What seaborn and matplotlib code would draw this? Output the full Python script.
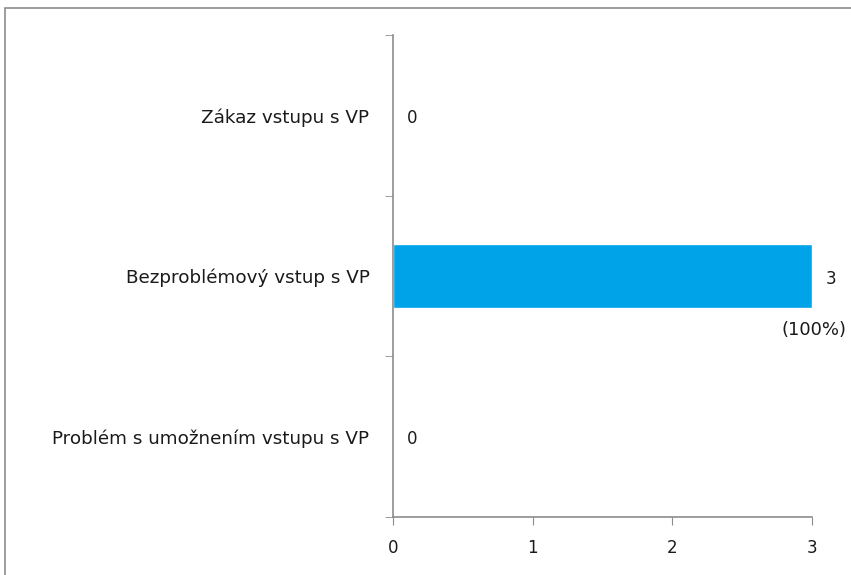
import matplotlib
matplotlib.use('Agg')
import matplotlib.pyplot as plt
import matplotlib.patches as patches
import pandas as pd
import seaborn as sns

categories = ['Zákaz vstupu s VP', 'Bezproblémový vstup s VP', 'Problém s umožnením vstupu s VP']
counts = [0, 3, 0]
percent_labels = ['', '(100%)', '']
xticks = [0, 1, 2, 3]

df = pd.DataFrame({'kategorie': categories, 'pocet': counts})

sns.set_style('white')
plt.rcParams['font.family'] = ['DejaVu Sans']

fig = plt.figure(figsize=(8.51, 5.75), dpi=100)
ax = fig.add_axes([0.4618, 0.1009, 0.4924, 0.8383])

sns.barplot(data=df, x='pocet', y='kategorie', order=categories, color='#00a2e8',
            width=0.4, saturation=1, ax=ax)

ax.set_xlim(0, 3)
ax.set_ylim(2.5, -0.5)
ax.set_xticks(xticks)
ax.set_xticklabels([str(t) for t in xticks])
ax.set_yticks([-0.5, 0.5, 1.5, 2.5], minor=True)
ax.tick_params(axis='y', which='major', length=0, pad=17, labelsize=13.2, labelcolor='#1a1a1a')
ax.tick_params(axis='y', which='minor', length=6, direction='out', color='#8c8c8c', left=True)
ax.tick_params(axis='x', length=6, direction='out', color='#8c8c8c', bottom=True,
               labelsize=12, labelcolor='#1a1a1a', pad=10)
ax.set_xlabel('')
ax.set_ylabel('')

for side in ['top', 'right']:
    ax.spines[side].set_visible(False)
for side in ['left', 'bottom']:
    ax.spines[side].set_color('#8c8c8c')
    ax.spines[side].set_linewidth(1.2)

# value labels
for i, (c, p) in enumerate(zip(counts, percent_labels)):
    ax.annotate(str(c), xy=(c, i), xytext=(10, -2), textcoords='offset points',
                va='center', ha='left', fontsize=12, color='#1a1a1a')
    if p:
        ax.annotate(p, xy=(c, i), xytext=(-22, -39), textcoords='offset points',
                    va='center', ha='left', fontsize=13, color='#1a1a1a',
                    annotation_clip=False)

# chart area border
fig.patches.append(patches.Rectangle((5 / 851, -0.1), 1.2, 1 - 8 / 575 + 0.1,
                                     transform=fig.transFigure, fill=False,
                                     edgecolor='#8c8c8c', linewidth=1.2))

fig.savefig('out.png', dpi=100)
